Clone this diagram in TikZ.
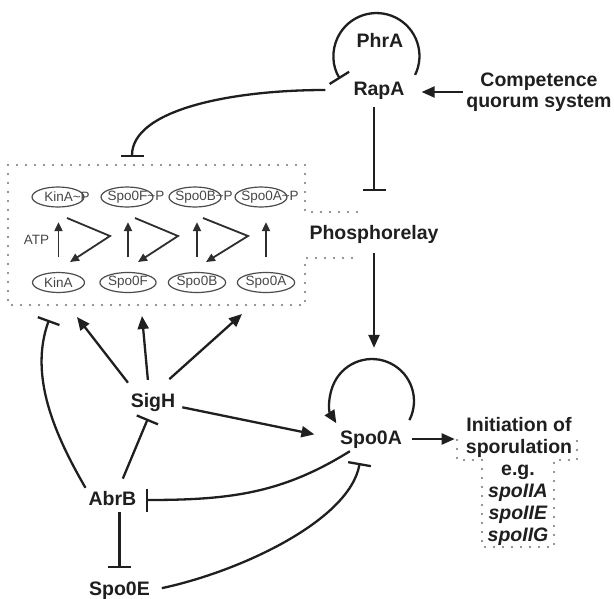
\documentclass[tikz,border=0pt]{standalone}
\usepackage{fontspec}
\setmainfont{Liberation Sans}
\usetikzlibrary{arrows.meta,shapes.geometric,calc}
\begin{document}
\begin{tikzpicture}[x=1pt,y=1pt,
  lbl/.style={font=\bfseries\fontsize{19.5}{21}\selectfont, text height=14pt, text depth=4pt, inner sep=3pt, text=black!88},
  lblm/.style={font=\bfseries\fontsize{19.5}{21}\selectfont, inner sep=3pt, text=black!88, align=center},
  ell/.style={draw=black!70, line width=1.2pt, ellipse, minimum width=52pt, minimum height=20pt, inner sep=0pt, font=\fontsize{13.5}{14}\selectfont, text=black!72},
  sm/.style={font=\fontsize{13.5}{14}\selectfont, text=black!72, inner sep=0pt},
  act/.style={line width=2.3pt, draw=black!88, -{Triangle[length=13pt,width=11pt]}},
  rep/.style={line width=2.3pt, draw=black!88, -{Bar[width=23pt,line width=2.3pt]}},
  sarr/.style={line width=1.8pt, draw=black!82, -{Triangle[length=9pt,width=8pt]}},
  dots/.style={draw=black!55, line width=2.3pt, line cap=round, dash pattern=on 0pt off 9pt},
]
\fill[white] (0,0) rectangle (614,-598);
\useasboundingbox (0,0) rectangle (614,-598);

% main labels
\node[lbl] (PhrA) at (380,-42) {PhrA};
\node[lbl] (RapA) at (379,-90) {RapA};
\node[lblm] (Comp) at (539,-92) {Competence\\quorum system};
\node[lbl] (Phos) at (374,-234) {Phosphorelay};
\node[lbl] (SigH) at (153,-402) {SigH};
\node[lbl] (Spo0A) at (371,-439) {Spo0A};
\node[lbl] (AbrB) at (112.5,-500) {AbrB};
\node[lbl] (Spo0E) at (119.5,-590) {Spo0E};
\node[lblm, font=\bfseries\fontsize{19.5}{21.6}\selectfont] (Init) at (519,-437.5) {Initiation of\\sporulation};
\node[lblm, font=\bfseries\fontsize{19.5}{22.2}\selectfont] (eg) at (518,-505.3) {e.g.\\\textit{spoIIA}\\\textit{spoIIE}\\\textit{spoIIG}};

% dotted outlines
\draw[dots] (357,-212) -- (305,-212) -- (305,-165) -- (8,-165) -- (8,-305) -- (305,-305) -- (305,-258) -- (357,-258);
\draw[dots] (457,-440) -- (457,-460) -- (482,-460) -- (482,-547) -- (554,-547) -- (554,-460) -- (577,-460) -- (577,-440);

% phosphorelay contents
\node[ell] (k1) at (58,-197) {};
\node[ell] (f1) at (127,-197) {};
\node[ell] (b1) at (195,-197) {};
\node[ell] (a1) at (261,-197) {};
\node[sm] (k1t) at (67,-197) {KinA\textasciitilde P};
\node[sm] (f1t) at (136,-197) {Spo0F\textasciitilde P};
\node[sm] (b1t) at (204,-197) {Spo0B\textasciitilde P};
\node[sm] (a1t) at (270,-197) {Spo0A\textasciitilde P};
\node[ell] (k0) at (58.5,-282.5) {KinA};
\node[ell] (f0) at (128,-282.5) {Spo0F};
\node[ell] (b0) at (197,-282.5) {Spo0B};
\node[ell] (a0) at (266,-282.5) {Spo0A};
\node[sm] (ATP) at (36.5,-240) {ATP};
\foreach \lo/\hi in {k0/k1,f0/f1,b0/b1,a0/a1}
  \draw[sarr, shorten <=14.5pt, shorten >=14.5pt] (\lo.north) -- (\lo.north |- \hi.south);

\coordinate (zs1) at (67,-218);  \coordinate (zm1) at (110,-236); \coordinate (ze1) at (70,-262);
\coordinate (zs2) at (135,-218); \coordinate (zm2) at (178,-236); \coordinate (ze2) at (138,-262);
\coordinate (zs3) at (203,-218); \coordinate (zm3) at (248,-236); \coordinate (ze3) at (206,-262);
\foreach \i in {1,2,3} \draw[sarr] (zs\i) -- (zm\i) -- (ze\i);

% free ends on the phosphorelay box
\coordinate (tRap) at (132,-157);
\coordinate (tAbr) at (49,-320);
\coordinate (tS1) at (77,-317);
\coordinate (tS2) at (142,-316);
\coordinate (tS3) at (242,-314);

% connectors
\draw[rep] ([shift={(35.1,-32.9)}]PhrA.center) arc[start angle=-26, end angle=212, radius=43];
\draw[act, shorten >=14pt] (Comp.west) -- (Comp.west -| RapA.east);
\draw[rep, shorten <=25pt] (RapA.west) .. controls +(180:120) and +(90:47) .. (tRap);
\draw[rep, shorten <=5pt, shorten >=31pt] (RapA.south -| Phos) -- (Phos.north);
\draw[act, shorten <=7pt, shorten >=79pt] (Phos.south) -- (Phos.south |- Spo0A.north);
\draw[act] ([shift={(38.4,18.9)}]Spo0A.center) arc[start angle=-27, end angle=212, radius=42];

\draw[act, shorten <=9pt] (SigH.148) -- (tS1);
\draw[act, shorten <=10pt] (SigH.109) -- (tS2);
\draw[act, shorten <=16pt] (SigH.70) -- (tS3);
\draw[act, shorten <=4pt, shorten >=23pt] (SigH.-10) -- (Spo0A.west);

\draw[rep, shorten >=6pt] (Spo0A.-150) .. controls +(212:80) and +(0:90) .. (AbrB.east);
\draw[rep, shorten <=9pt, shorten >=12pt] (Spo0E.east) .. controls +(12:90) and +(-100:70) .. (Spo0A.-127);
\draw[rep, shorten <=10pt, shorten >=5pt] (AbrB.62) -- (SigH.-105);
\draw[rep] (AbrB.north west) .. controls +(120:60) and +(250:60) .. (tAbr);
\draw[rep, shorten >=10pt] (Spo0E.north |- AbrB.south) -- (Spo0E.north);
\draw[act, shorten <=7pt, shorten >=8pt] (Spo0A.east) -- (Spo0A.east -| Init.west);
\end{tikzpicture}
\end{document}
